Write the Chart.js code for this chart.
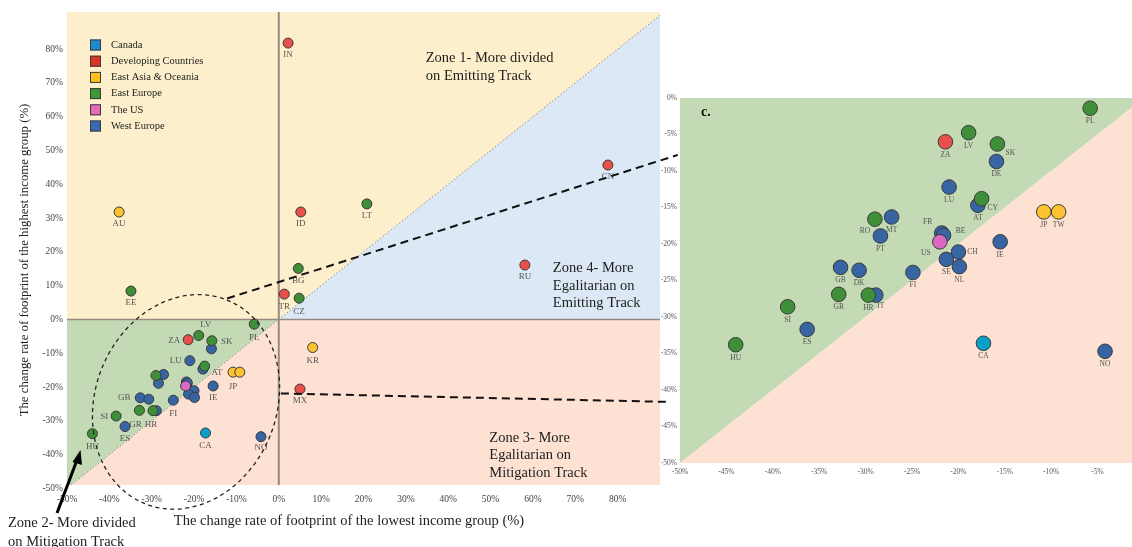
<!DOCTYPE html>
<html>
<head>
<meta charset="utf-8">
<script src="https://cdn.jsdelivr.net/npm/chart.js@4.4.1/dist/chart.umd.min.js"></script>
<style>
  html, body { margin: 0; padding: 0; background: #fff; overflow: hidden; width: 1132px; height: 547px; }
  #wrap { position: relative; width: 1132px; height: 547px; overflow: hidden; }
  #main { position: absolute; left: 0; top: 0; }
  #inset { position: absolute; left: 640px; top: 80px; }
</style>
</head>
<body>
<div id="wrap">
  <canvas id="main" width="1132" height="547"></canvas>
  <canvas id="inset" width="520" height="410"></canvas>
</div>
<script>
// ---- data: change rate of footprint (%) by income group ----
const groupNames = ['Canada', 'Developing Countries', 'East Asia & Oceania', 'East Europe', 'The US', 'West Europe'];
const countryCodes = ['IN','ID','CN','RU','TR','MX','ZA','AU','KR','JP','TW','LT','BG','CZ','EE','PL','LV','SK','CY','RO','GR','HR','SI','HU','US','CA','DE','LU','AT','MT','PT','FR','BE','IE','CH','SE','NL','GB','DK','FI','IT','ES','NO'];
const countryGroup = [1,1,1,1,1,1,1, 2,2,2,2, 3,3,3,3,3,3,3,3,3,3,3,3,3, 4, 0, 5,5,5,5,5,5,5,5,5,5,5,5,5,5,5,5,5];
const lowestIncomeChange = [2.2,5.2,77.7,58.1,1.3,5.0,-21.4, -37.7,8.0,-10.8,-9.2, 20.8,4.6,4.8,-34.9,-5.8,-18.9,-15.8,-17.5,-29.0,-32.9,-29.7,-38.4,-44.0, -22.0, -17.3, -15.9,-21.0,-17.9,-27.2,-28.4,-21.8,-21.6,-15.5,-20.0,-21.3,-19.9,-32.7,-30.7,-24.9,-28.9,-36.3,-4.2];
const highestIncomeChange = [81.8,31.8,45.7,16.1,7.5,-20.6,-6.0, 31.8,-8.3,-15.6,-15.6, 34.2,15.1,6.3,8.4,-1.4,-4.75,-6.3,-13.8,-16.6,-26.9,-27.0,-28.6,-33.8, -19.7, -33.6, -8.7,-12.2,-14.7,-16.3,-18.9,-18.5,-18.8,-19.7,-21.1,-22.1,-23.1,-23.2,-23.6,-23.9,-27.0,-31.7,-34.7];
const mainTickValues = [-50,-40,-30,-20,-10,0,10,20,30,40,50,60,70,80];
const insetTickValues = [-50,-45,-40,-35,-30,-25,-20,-15,-10,-5,0];

// ---- styling ----
const groupColors = ['#0a9fca', '#e8504c', '#fdc231', '#3e8f38', '#db68c2', '#3765a4'];
const legendColors = ['#1a8bcf', '#dc3325', '#fdbf18', '#3f9636', '#e46cb8', '#3a69b2'];
const zoneColors = { upperLeft: '#fdefcb', upperRight: '#dce8f5', lowerLeft: '#c4dab4', lowerRight: '#fde1d3' };
const SERIF = "'Liberation Serif', 'Times New Roman', serif";

// label placement around points (dx, dy from the point centre)
const mainTagOffsets = {
  IN:[0,12], ID:[0,12], LT:[0,12], CN:[0,12], RU:[0,12], BG:[0,12], TR:[0,13], CZ:[0,13],
  KR:[0,13], MX:[0,12], AU:[0,12], EE:[0,12], PL:[0,13], LV:[7,-11], ZA:[-14,1], SK:[15,1],
  LU:[-14,0], AT:[14,4], JP:[0,14], IE:[0,12], FI:[0,13], GB:[-16,0], SI:[-12,1],
  GR:[-4,14], HR:[-2,14], ES:[0,12], HU:[0,13], CA:[0,13], NO:[0,11]
};
const insetTagOffsets = {
  SK:[13,9], CY:[11,9], RO:[-10,12], FR:[-14,-11], BE:[17,-4], US:[-14,11], CH:[14,0], IT:[5,11]
};

function buildDatasets(keep, radius) {
  return groupNames.map((name, g) => {
    const idx = countryCodes.map((c, i) => i).filter(i => countryGroup[i] === g && keep(i));
    return {
      label: name,
      codes: idx.map(i => countryCodes[i]),
      data: idx.map(i => ({ x: lowestIncomeChange[i], y: highestIncomeChange[i] })),
      backgroundColor: groupColors[g],
      borderColor: '#3a3a3a',
      borderWidth: 1,
      pointRadius: radius,
      pointHoverRadius: radius
    };
  });
}

// quadrant / diagonal zones behind the points
function zonePlugin(drawGuides) {
  return {
    id: 'zones',
    beforeDatasetsDraw(chart) {
      const { ctx, chartArea: a, scales: { x, y } } = chart;
      const P = (vx, vy) => [x.getPixelForValue(vx), y.getPixelForValue(vy)];
      const poly = (pts, color) => {
        ctx.beginPath();
        pts.forEach((p, i) => { const q = P(p[0], p[1]); i ? ctx.lineTo(q[0], q[1]) : ctx.moveTo(q[0], q[1]); });
        ctx.closePath(); ctx.fillStyle = color; ctx.fill();
      };
      const B = 1000;
      ctx.save();
      ctx.beginPath(); ctx.rect(a.left, a.top, a.right - a.left, a.bottom - a.top); ctx.clip();
      poly([[-B,0],[0,0],[B,B],[-B,B]], zoneColors.upperLeft);
      poly([[0,0],[B,0],[B,B]], zoneColors.upperRight);
      poly([[-B,-B],[0,0],[-B,0]], zoneColors.lowerLeft);
      poly([[-B,-B],[0,0],[B,0],[B,-B]], zoneColors.lowerRight);
      if (drawGuides) {
        // y = x reference line
        ctx.setLineDash([1.5, 2]); ctx.strokeStyle = '#8a8a8a'; ctx.lineWidth = 1;
        ctx.beginPath();
        let p = P(-B, -B); ctx.moveTo(p[0], p[1]); p = P(B, B); ctx.lineTo(p[0], p[1]); ctx.stroke();
        ctx.setLineDash([]);
        // zero lines
        ctx.strokeStyle = '#968a80';
        const x0 = x.getPixelForValue(0), y0 = y.getPixelForValue(0);
        ctx.lineWidth = 1.6;
        ctx.beginPath(); ctx.moveTo(a.left, y0); ctx.lineTo(a.right, y0); ctx.stroke();
        ctx.lineWidth = 2;
        ctx.beginPath(); ctx.moveTo(x0, a.top); ctx.lineTo(x0, a.bottom); ctx.stroke();
      }
      ctx.restore();
    }
  };
}

function tagPlugin(offsets, fontSize, defaultDy, onlyListed) {
  return {
    id: 'tags',
    afterDatasetsDraw(chart) {
      const ctx = chart.ctx;
      ctx.save();
      ctx.font = fontSize + 'px ' + SERIF;
      ctx.fillStyle = '#555';
      ctx.textAlign = 'center';
      ctx.textBaseline = 'middle';
      chart.data.datasets.forEach((ds, di) => {
        chart.getDatasetMeta(di).data.forEach((pt, i) => {
          const code = ds.codes[i];
          let off = offsets[code];
          if (!off) { if (onlyListed) return; off = [0, defaultDy]; }
          ctx.fillText(code, pt.x + off[0], pt.y + off[1]);
        });
      });
      ctx.restore();
    }
  };
}

// legend, zone captions, highlight ellipse, connectors, axis titles
const mainExtras = {
  id: 'mainExtras',
  afterDraw(chart) {
    const { ctx, scales: { x, y } } = chart;
    const P = (vx, vy) => [x.getPixelForValue(vx), y.getPixelForValue(vy)];
    ctx.save();

    // legend
    ctx.font = '10.5px ' + SERIF;
    ctx.textBaseline = 'middle'; ctx.textAlign = 'left';
    groupNames.forEach((name, g) => {
      const cy = 45 + g * 16.2;
      ctx.fillStyle = legendColors[g];
      ctx.fillRect(90, cy - 5.5, 11, 11);
      ctx.strokeStyle = '#3a3a3a'; ctx.lineWidth = 1;
      ctx.strokeRect(90.5, cy - 5, 10, 10);
      ctx.fillStyle = '#222';
      ctx.fillText(name, 111, cy);
    });

    // zone captions
    ctx.font = '14.5px ' + SERIF;
    ctx.fillStyle = '#1e1e1e';
    const caption = (vx, vy, lines, step) => {
      const p = P(vx, vy);
      lines.forEach((t, k) => ctx.fillText(t, p[0], p[1] + k * step));
    };
    caption(34.7, 77.4, ['Zone 1- More divided', 'on Emitting Track'], 18);
    caption(64.7, 15.1, ['Zone 4- More', 'Egalitarian on', 'Emitting Track'], 17.3);
    caption(49.7, -35.0, ['Zone 3- More', 'Egalitarian on', 'Mitigation Track'], 17.6);
    ctx.fillText('Zone 2- More divided', 8, 523);
    ctx.fillText('on Mitigation Track', 8, 542);

    // arrow pointing at Zone 2
    ctx.strokeStyle = '#000'; ctx.fillStyle = '#000'; ctx.lineWidth = 3;
    ctx.beginPath(); ctx.moveTo(57, 513); ctx.lineTo(77, 460); ctx.stroke();
    ctx.beginPath(); ctx.moveTo(80.5, 450); ctx.lineTo(72.5, 462); ctx.lineTo(82, 465); ctx.closePath(); ctx.fill();

    // ellipse around the clustered countries
    const c = P(-21.9, -24.4);
    const rx = Math.abs(x.getPixelForValue(21.4) - x.getPixelForValue(0));
    const ry = Math.abs(y.getPixelForValue(32.5) - y.getPixelForValue(0));
    ctx.setLineDash([4, 3.5]); ctx.lineWidth = 1.3; ctx.strokeStyle = '#222';
    ctx.beginPath(); ctx.ellipse(c[0], c[1], rx, ry, 22 * Math.PI / 180, 0, Math.PI * 2); ctx.stroke();

    // connectors to the magnified panel
    ctx.setLineDash([8, 5]); ctx.lineWidth = 2; ctx.strokeStyle = '#111';
    let a1 = P(-12.2, 6.2), a2 = P(94.2, 48.7);
    ctx.beginPath(); ctx.moveTo(a1[0], a1[1]); ctx.lineTo(a2[0], a2[1]); ctx.stroke();
    a1 = P(0.5, -21.9); a2 = P(91.9, -24.4);
    ctx.beginPath(); ctx.moveTo(a1[0], a1[1]); ctx.lineTo(a2[0], a2[1]); ctx.stroke();
    ctx.setLineDash([]);

    // axis titles
    ctx.fillStyle = '#1e1e1e';
    ctx.font = '14.5px ' + SERIF;
    ctx.textAlign = 'center';
    ctx.fillText('The change rate of footprint of the lowest income group (%)', 349, 521);
    ctx.translate(25, 260); ctx.rotate(-Math.PI / 2);
    ctx.font = '12.8px ' + SERIF;
    ctx.fillText('The change rate of footprint of the highest income group (%)', 0, 0);
    ctx.restore();
  }
};

const insetExtras = {
  id: 'insetExtras',
  afterDraw(chart) {
    const ctx = chart.ctx;
    ctx.save();
    ctx.font = 'bold 14px ' + SERIF;
    ctx.fillStyle = '#111';
    ctx.textBaseline = 'middle';
    ctx.fillText('c.', chart.chartArea.left + 21, chart.chartArea.top + 14);
    ctx.restore();
  }
};

const pct = v => v + '%';

new Chart(document.getElementById('main'), {
  type: 'scatter',
  data: { datasets: buildDatasets(() => true, 5) },
  options: {
    responsive: false, animation: false, events: [],
    layout: { padding: { left: 0, top: 12, right: 472, bottom: 0 } },
    plugins: { legend: { display: false }, tooltip: { enabled: false } },
    scales: {
      x: {
        type: 'linear', min: -50, max: 90,
        afterFit(s) { s.height = 62; },
        afterBuildTicks(s) { s.ticks = mainTickValues.map(v => ({ value: v })); },
        grid: { display: false, drawTicks: false }, border: { display: false },
        ticks: { padding: 9, autoSkip: false, maxRotation: 0, color: '#444', font: { family: SERIF, size: 9.5 }, callback: pct }
      },
      y: {
        type: 'linear', min: -49, max: 91,
        afterFit(s) { s.width = 67; },
        afterBuildTicks(s) { s.ticks = mainTickValues.map(v => ({ value: v })); },
        grid: { display: false, drawTicks: false }, border: { display: false },
        ticks: { padding: 4, autoSkip: false, color: '#444', font: { family: SERIF, size: 9.5 }, callback: pct }
      }
    }
  },
  plugins: [zonePlugin(true), tagPlugin(mainTagOffsets, 9, 12, true), mainExtras]
});

new Chart(document.getElementById('inset'), {
  type: 'scatter',
  data: { datasets: buildDatasets(i => lowestIncomeChange[i] <= 0 && highestIncomeChange[i] <= 0, 7.3) },
  options: {
    responsive: false, animation: false, events: [],
    layout: { padding: { left: 0, top: 18, right: 16, bottom: 0 } },
    plugins: { legend: { display: false }, tooltip: { enabled: false } },
    scales: {
      x: {
        type: 'linear', min: -50, max: 0,
        afterFit(s) { s.height = 27; },
        afterBuildTicks(s) { s.ticks = insetTickValues.map(v => ({ value: v })); },
        grid: { display: false, drawTicks: false }, border: { display: false },
        ticks: { padding: 5, autoSkip: false, maxRotation: 0, color: '#555', font: { family: SERIF, size: 7.5 }, callback: pct }
      },
      y: {
        type: 'linear', min: -50, max: 0,
        afterFit(s) { s.width = 40; },
        afterBuildTicks(s) { s.ticks = insetTickValues.map(v => ({ value: v })); },
        grid: { display: false, drawTicks: false }, border: { display: false },
        ticks: { padding: 3, autoSkip: false, color: '#555', font: { family: SERIF, size: 7.5 }, callback: pct }
      }
    }
  },
  plugins: [zonePlugin(false), tagPlugin(insetTagOffsets, 7.5, 13, false), insetExtras]
});
</script>
</body>
</html>
